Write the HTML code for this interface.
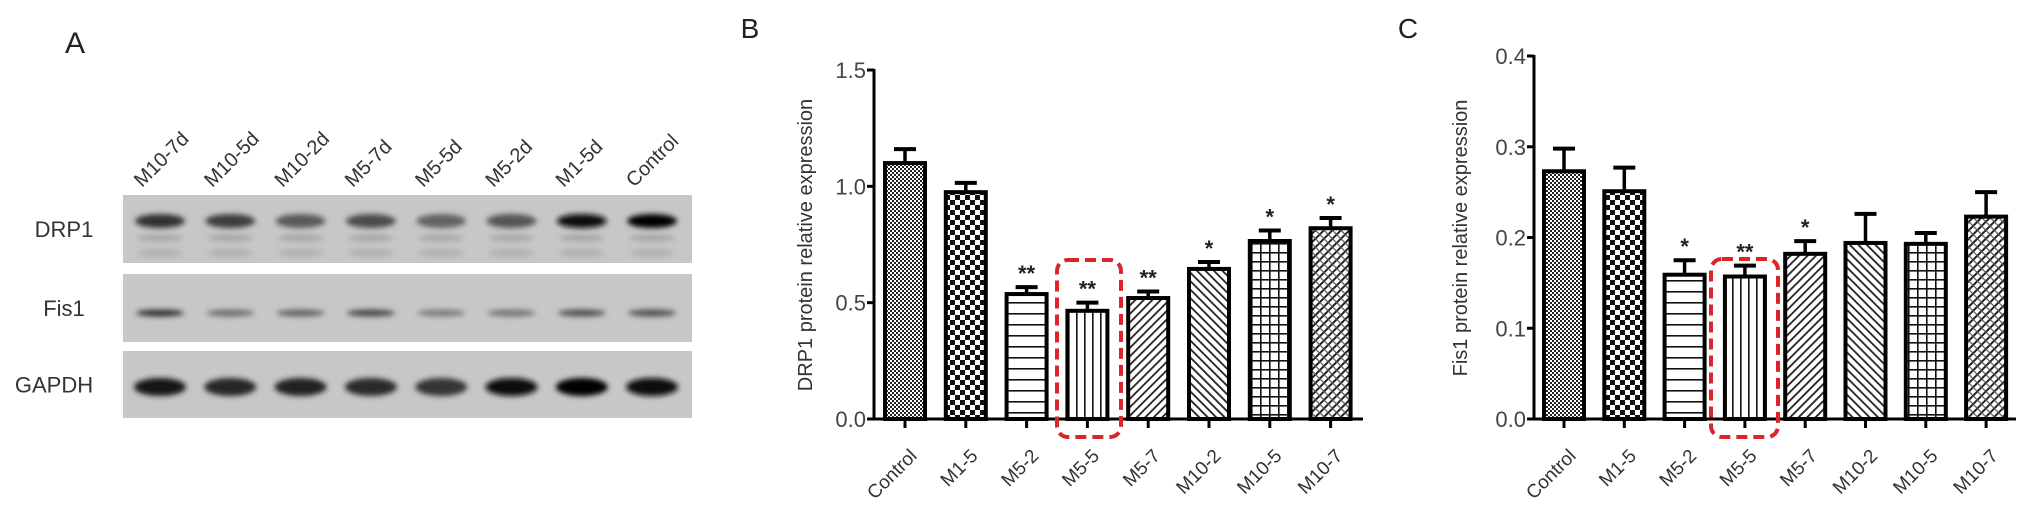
<!DOCTYPE html>
<html><head><meta charset="utf-8"><style>
html,body{margin:0;padding:0;background:#fff;}
svg{display:block;font-family:"Liberation Sans",Arial,sans-serif;}
</style></head><body>
<svg id="fig" width="2031" height="524" viewBox="0 0 2031 524" xmlns="http://www.w3.org/2000/svg">
<defs>
  <filter id="blur" x="-30%" y="-100%" width="160%" height="300%"><feGaussianBlur stdDeviation="2.6"/></filter>
  <pattern id="pat0" width="4" height="4" patternUnits="userSpaceOnUse"><rect width="4" height="4" fill="#fff"/><rect width="2" height="2" fill="#222"/><rect x="2" y="2" width="2" height="2" fill="#222"/></pattern>
  <pattern id="pat1" width="10" height="10" patternUnits="userSpaceOnUse"><rect width="10" height="10" fill="#fff"/><rect width="5" height="5" fill="#111"/><rect x="5" y="5" width="5" height="5" fill="#111"/></pattern>
  <pattern id="pat2" width="10" height="11" patternUnits="userSpaceOnUse"><rect width="10" height="11" fill="#fff"/><rect y="5" width="10" height="1.6" fill="#111"/></pattern>
  <pattern id="pat3" width="8" height="10" patternUnits="userSpaceOnUse"><rect width="8" height="10" fill="#fff"/><rect x="4" width="1.6" height="10" fill="#111"/></pattern>
  <pattern id="pat4" width="6" height="6" patternUnits="userSpaceOnUse" patternTransform="rotate(45)"><rect width="6" height="6" fill="#fff"/><rect width="1.8" height="6" fill="#222"/></pattern>
  <pattern id="pat5" width="6" height="6" patternUnits="userSpaceOnUse" patternTransform="rotate(-45)"><rect width="6" height="6" fill="#fff"/><rect width="1.8" height="6" fill="#222"/></pattern>
  <pattern id="pat6" width="9" height="9" patternUnits="userSpaceOnUse"><rect width="9" height="9" fill="#fff"/><rect width="1.6" height="9" fill="#111"/><rect width="9" height="1.6" fill="#111"/></pattern>
  <pattern id="pat7" width="6" height="6" patternUnits="userSpaceOnUse" patternTransform="rotate(45)"><rect width="6" height="6" fill="#fff"/><rect width="2" height="6" fill="#222"/><rect width="6" height="1.2" fill="#555"/></pattern>
</defs>
<g id="panelA"></g>
<g id="panelB"></g>
<g id="panelC"></g>
</svg>
<script>
const categories = ["Control","M1-5","M5-2","M5-5","M5-7","M10-2","M10-5","M10-7"];
const drp1Values = [1.10, 0.975, 0.537, 0.465, 0.52, 0.645, 0.765, 0.82];
const drp1Errors = [0.06, 0.04, 0.03, 0.035, 0.028, 0.03, 0.045, 0.044];
const drp1Stars = ["", "", "**", "**", "**", "*", "*", "*"];
const drp1Ticks = [0, 0.5, 1.0, 1.5];
const drp1TickLabels = ["0.0","0.5","1.0","1.5"];
const fis1Values = [0.273, 0.251, 0.159, 0.157, 0.182, 0.194, 0.193, 0.223];
const fis1Errors = [0.025, 0.026, 0.016, 0.012, 0.014, 0.032, 0.012, 0.027];
const fis1Stars = ["", "", "*", "**", "*", "", "", ""];
const fis1Ticks = [0, 0.1, 0.2, 0.3, 0.4];
const fis1TickLabels = ["0.0","0.1","0.2","0.3","0.4"];
const laneLabels = ["M10-7d","M10-5d","M10-2d","M5-7d","M5-5d","M5-2d","M1-5d","Control"];
const drp1Band = [0.75,0.7,0.55,0.62,0.5,0.58,0.92,1.0];
const fis1Band = [0.75,0.45,0.5,0.65,0.38,0.42,0.6,0.6];
const gapdhBand = [0.88,0.8,0.82,0.78,0.74,0.95,0.97,0.92];

const NS = "http://www.w3.org/2000/svg";
function mk(parent, tag, attrs, text){
  const e = document.createElementNS(NS, tag);
  for (const k in attrs) e.setAttribute(k, attrs[k]);
  if (text !== undefined) e.textContent = text;
  parent.appendChild(e);
  return e;
}

// ---------- Panel A ----------
(function(){
  const g = document.getElementById('panelA');
  const t = mk(g,'text',{x:75,y:53,'font-size':30,'text-anchor':'middle',fill:'#222'},'A');
  
  
  const laneX = i => 160 + i*70.3;
  laneLabels.forEach((l,i)=>{
    const e = mk(g,'text',{transform:`translate(${laneX(i)-18},${188}) rotate(-45)`,'font-size':20,fill:'#333'},l);
    
    
  });
  const strips = [
    {name:'DRP1',y:195,h:68,lab:'DRP1',band:drp1Band},
    {name:'Fis1',y:274,h:68,lab:'Fis1',band:fis1Band},
    {name:'GAPDH',y:351,h:67,lab:'GAPDH',band:gapdhBand}
  ];
  strips.forEach((s,si)=>{
    const r = mk(g,'rect',{x:123,y:s.y,width:569,height:s.h,fill:'#c7c7c7'});
    
    
    const lt = mk(g,'text',{x:si===2?54:64,y:s.y+s.h/2+8,'font-size':22,'text-anchor':'middle',fill:'#333'},s.lab);
    
    
    s.band.forEach((v,i)=>{
      const cx = laneX(i);
      const c = Math.round(200*(1-v));
      const col = `rgb(${c},${c},${c})`;
      let b;
      if (si===0){
        b = mk(g,'ellipse',{cx:cx,cy:221,rx:25,ry:7,fill:col,filter:'url(#blur)'});
        mk(g,'ellipse',{cx:cx,cy:238,rx:23,ry:3,fill:'#8a8a8a',opacity:0.6,filter:'url(#blur)'});
        mk(g,'ellipse',{cx:cx,cy:253,rx:23,ry:4,fill:'#999',opacity:0.5,filter:'url(#blur)'});
      } else if (si===1){
        b = mk(g,'ellipse',{cx:cx,cy:313,rx:24,ry:3.5,fill:col,filter:'url(#blur)'});
      } else {
        b = mk(g,'ellipse',{cx:cx,cy:387,rx:26,ry:9,fill:col,filter:'url(#blur)'});
      }
      
      
    });
  });
})();

// ---------- Bar charts ----------
function drawChart(cfg){
  const g = document.getElementById(cfg.id);
  const y = v => cfg.y0 - (v - 0)/(cfg.yMax) * (cfg.y0 - cfg.yTop);
  const x = i => cfg.x0c + i*cfg.step;
  const pl = mk(g,'text',{x:cfg.labelX,y:38,'font-size':28,'text-anchor':'middle',fill:'#222'},cfg.letter);
  
  
  // y title
  const yt = mk(g,'text',{transform:`translate(${cfg.titleX},${cfg.titleY}) rotate(-90)`,'font-size':20,'text-anchor':'middle',fill:'#333'},cfg.title);
  
  
  // bars
  cfg.values.forEach((v,i)=>{
    const cx = x(i), w = 40;
    const top = y(v), et = y(v + cfg.errors[i]);
    const eb = mk(g,'line',{x1:cx,x2:cx,y1:top,y2:et,stroke:'#000','stroke-width':3.5});
    
    
    const ec = mk(g,'line',{x1:cx-11,x2:cx+11,y1:et,y2:et,stroke:'#000','stroke-width':4});
    
    
    const r = mk(g,'rect',{x:cx-w/2,y:top,width:w,height:cfg.y0-top,fill:`url(#pat${i})`,stroke:'#000','stroke-width':4});
    
    
    if (cfg.stars[i]){
      const s = mk(g,'text',{x:cx,y:et-6,'font-size':22,'font-weight':'bold','text-anchor':'middle',fill:'#222'},cfg.stars[i].replace(/\*/g,'*'));
      
      
    }
    const tk = mk(g,'line',{x1:cx,x2:cx,y1:cfg.y0,y2:cfg.y0+9,stroke:'#000','stroke-width':3});
    
    
    const lb = mk(g,'text',{transform:`translate(${cx+13},${cfg.y0+38}) rotate(-45)`,'font-size':19,'text-anchor':'end',fill:'#333'},categories[i]);
    
    
  });
  // axes
  const ya = mk(g,'line',{x1:cfg.x0,x2:cfg.x0,y1:cfg.yTop-1,y2:cfg.y0+1.5,stroke:'#000','stroke-width':3});
  
  
  const xa = mk(g,'line',{x1:cfg.x0-1.5,x2:cfg.xEnd,y1:cfg.y0,y2:cfg.y0,stroke:'#000','stroke-width':3});
  
  
  cfg.ticks.forEach((t,k)=>{
    const ty = y(t);
    const tl = mk(g,'line',{x1:cfg.x0-7,x2:cfg.x0,y1:ty,y2:ty,stroke:'#000','stroke-width':3});
    
    
    const tt = mk(g,'text',{x:cfg.x0-8,y:ty+8,'font-size':22,'text-anchor':'end',fill:'#444'},cfg.tickLabels[k]);
    
    
  });
  // highlight box
  const hb = mk(g,'rect',{x:cfg.box[0],y:cfg.box[1],width:cfg.box[2],height:cfg.box[3],rx:11,fill:'none',stroke:'#d8262a','stroke-width':4,'stroke-dasharray':'11,6'});
  
  
}

drawChart({id:'panelB',letter:'B',labelX:750,title:'DRP1 protein relative expression',titleX:812,titleY:245,
  x0:874,y0:419,yTop:70,yMax:1.5,x0c:905,step:60.8,xEnd:1363,
  values:drp1Values,errors:drp1Errors,stars:drp1Stars,ticks:drp1Ticks,tickLabels:drp1TickLabels,
  box:[1057,260,64,177]});
drawChart({id:'panelC',letter:'C',labelX:1408,title:'Fis1 protein relative expression',titleX:1467,titleY:238,
  x0:1534,y0:419,yTop:56,yMax:0.4,x0c:1564,step:60.3,xEnd:2016,
  values:fis1Values,errors:fis1Errors,stars:fis1Stars,ticks:fis1Ticks,tickLabels:fis1TickLabels,
  box:[1711,259,67,178]});
</script>
</body></html>
